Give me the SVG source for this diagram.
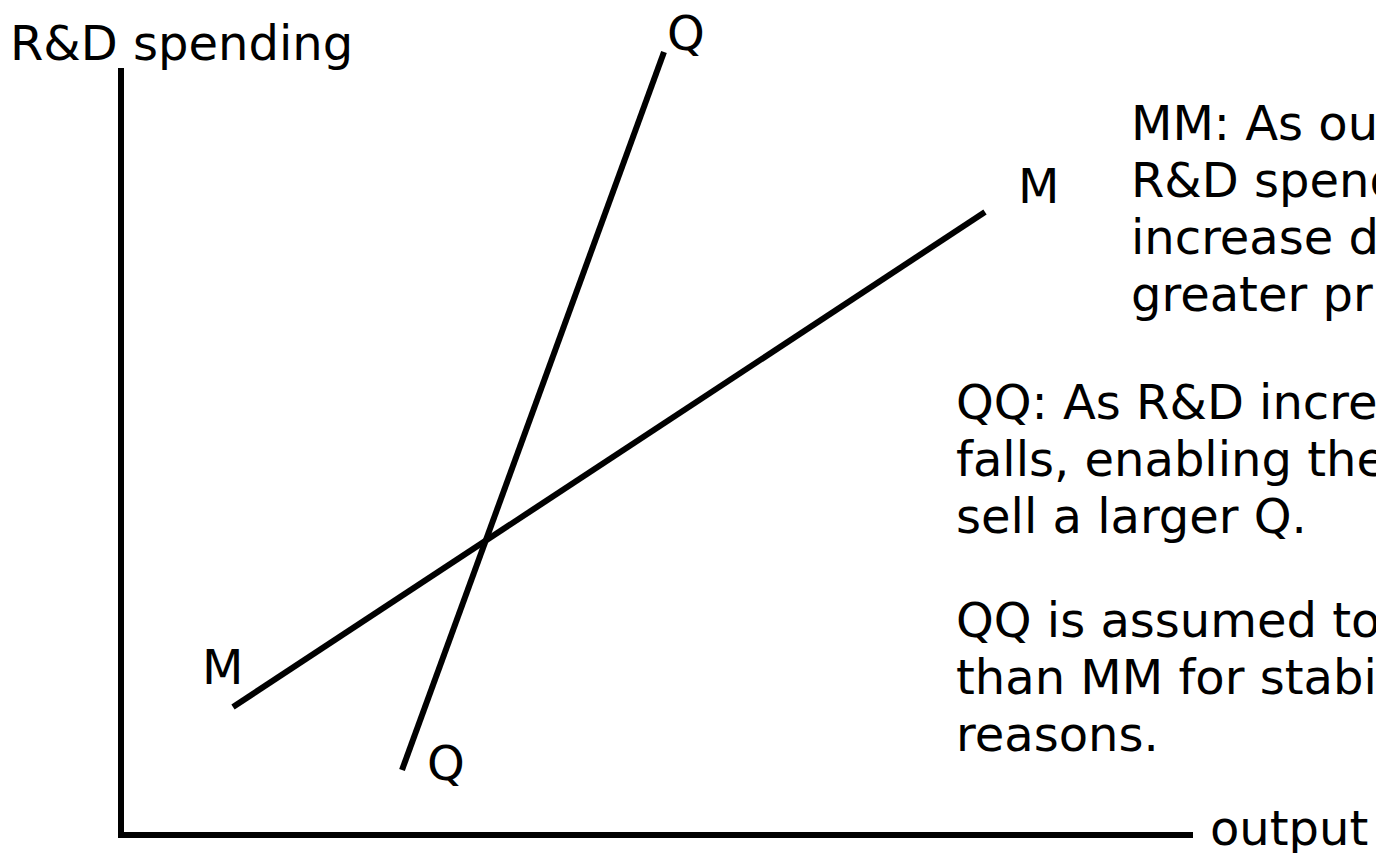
<svg xmlns="http://www.w3.org/2000/svg" width="1376" height="853" viewBox="0 0 1376 853">
<style>
text{font-family:"DejaVu Sans","Verdana",sans-serif;font-size:48px;fill:#000}
.ln{stroke:#000;stroke-width:6;fill:none;stroke-linecap:butt}
</style>
<rect width="1376" height="853" fill="#fff"/>
<g id="axes">
<polyline class="ln" points="121,68 121,835 1193,835"/>
<text x="10" y="60">R&amp;D spending</text>
<text x="1210" y="845">output</text>
</g>
<g id="connectors">
<line id="curve-MM" class="ln" x1="233" y1="707" x2="985" y2="212"/>
<line id="curve-QQ" class="ln" x1="402" y1="770" x2="664" y2="52"/>
</g>
<g id="label-M-low"><text x="202" y="684">M</text></g>
<g id="label-M-high"><text x="1018" y="203">M</text></g>
<g id="label-Q-high"><text x="667" y="50">Q</text></g>
<g id="label-Q-low"><text x="427" y="780">Q</text></g>
<g id="note-MM">
<text x="1131" y="140">MM: As ou</text>
<text x="1131" y="197">R&amp;D spend</text>
<text x="1131" y="254">increase d</text>
<text x="1131" y="311">greater pr</text>
</g>
<g id="note-QQ">
<text x="956" y="419">QQ: As R&amp;D incre</text>
<text x="956" y="476">falls, enabling the</text>
<text x="956" y="533">sell a larger Q.</text>
</g>
<g id="note-stability">
<text x="956" y="637">QQ is assumed to</text>
<text x="956" y="694">than MM for stabi</text>
<text x="956" y="751">reasons.</text>
</g>
</svg>
